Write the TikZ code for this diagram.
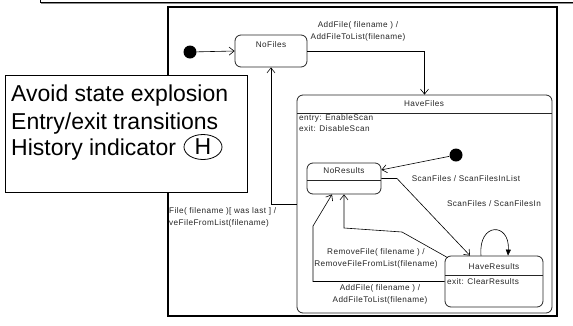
\documentclass[tikz,border=0pt]{standalone}
\usepackage{fontspec}
\setmainfont{Liberation Sans}
\newfontfamily\lblfont[LetterSpace=5]{Liberation Sans}
\usetikzlibrary{arrows.meta,calc,shapes.geometric}
\begin{document}
\begin{tikzpicture}[x=1pt,y=-1pt,
  lbl/.style={font=\lblfont\fontsize{8.2}{12}\selectfont, inner sep=0pt, text=black!85},
  bigtxt/.style={font=\fontsize{23}{27}\selectfont, inner sep=0pt, anchor=base west},
  statebox/.style={draw=black!85, rounded corners=6pt, line width=0.8pt, inner sep=0pt, fill=white},
  initdot/.style={circle, fill=black, minimum size=13pt, inner sep=0pt},
  trans/.style={draw, line width=0.6pt, -{Straight Barb[length=5pt,width=8pt]}},
  sep/.style={line width=0.8pt, black!85},
  ]
\useasboundingbox (0,0) rectangle (573,325);
% partial box at the top
\draw[line width=0.8pt] (40,-1) -- (40,2) -- (574,2);
\draw[black!45, line width=1pt] (41,3.4) -- (574,3.4);
% outer frame
\node[draw, line width=1.2pt, minimum width=389pt, minimum height=309pt, inner sep=0pt] (frame) at (362.5,161.5) {};
% HaveFiles composite state
\node[statebox, minimum width=255pt, minimum height=218pt] (havefiles) at (424.5,204) {};
\draw[sep] (297,113) -- (552,113);
\node[lbl] (hftitle) at (424,104) {HaveFiles};
\node[lbl, anchor=west] (hfentry) at (299,118) {entry: EnableScan};
\node[lbl, anchor=west] (hfexit) at (299,129) {exit: DisableScan};
% NoFiles
\node[statebox, minimum width=72pt, minimum height=32pt] (nofiles) at (271,51) {};
\node[lbl] (nftitle) at (271,45) {NoFiles};
\node[initdot] (dot1) at (190,52) {};
% NoResults
\node[statebox, minimum width=74pt, minimum height=31pt] (noresults) at (344,178.5) {};
\draw[sep] (307,180) -- (381,180);
\node[lbl] (nrtitle) at (344,171) {NoResults};
\node[initdot] (dot2) at (456,155) {};
% HaveResults
\node[statebox, minimum width=98pt, minimum height=51pt] (haveresults) at (494,281.5) {};
\draw[sep] (445,275) -- (543,275);
\node[lbl] (hrtitle) at (494,266.5) {HaveResults};
\node[lbl, anchor=west] (hrexit) at (447,282) {exit: ClearResults};
% transitions
\draw[trans] (dot1) -- (nofiles.west);
\draw[trans] (nofiles.east) -| (havefiles.north);
\draw[trans] (havefiles.west) -| (nofiles.south);
\draw[trans] (dot2) -- (noresults.13);
\draw[trans] (noresults.east) -- (397,178.5) -- ($(haveresults.north)+(-24,0)$);
\draw[trans] ($(haveresults.north west)+(3,2)$) -- (402,232) -- (noresults.south |- 0,228) -- (noresults.south);
\draw[trans] (haveresults.west) -- (313,281.5) -- (313,226) -- ($(noresults.south)+(-12,0)$);
\draw[line width=0.6pt, -{Triangle[length=6pt,width=5pt]}] ($(haveresults.north)+(-13,0)$) .. controls (478,222) and (510,222) .. ($(haveresults.north)+(14,0)$);
% transition labels
\node[lbl, align=center] (l1) at (358,31) {AddFile( filename ) /\\AddFileToList(filename)};
\node[lbl, align=left, anchor=north west] (l2) at (169,207) {File( filename )[ was last ] /\\veFileFromList(filename)};
\node[lbl] (l3) at (466,179) {ScanFiles / ScanFilesInList};
\node[lbl] (l4) at (494,204) {ScanFiles / ScanFilesIn};
\node[lbl, align=center] (l5) at (376,258.5) {RemoveFile( filename ) /\\RemoveFileFromList(filename)};
\node[lbl, align=center] (l6) at (380,294) {AddFile( filename ) /\\AddFileToList(filename)};
% notes box
\node[draw, fill=white, line width=0.9pt, minimum width=242pt, minimum height=117pt, inner sep=0pt] (notes) at (126,133.5) {};
\node[bigtxt] (t1) at (11,101) {Avoid state explosion};
\node[bigtxt] (t2) at (11,129) {Entry/exit transitions};
\node[bigtxt] (t3) at (11,155) {History indicator};
\node[draw, ellipse, line width=0.8pt, minimum width=38pt, minimum height=25pt, inner sep=0pt, font=\fontsize{23}{27}\selectfont] (hist) at (203,147) {H};
\end{tikzpicture}
\end{document}
